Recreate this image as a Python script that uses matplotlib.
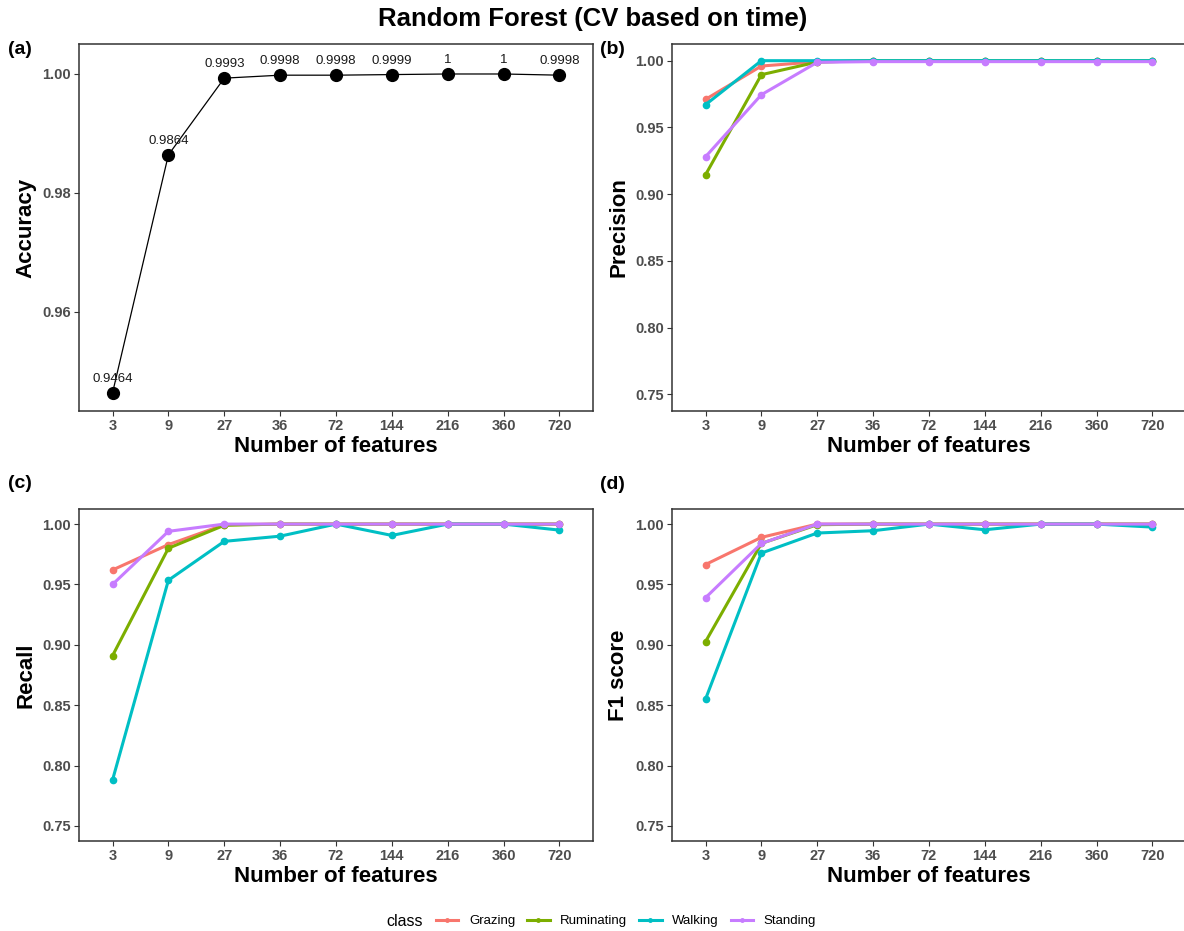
import matplotlib
matplotlib.use("Agg")
import matplotlib.pyplot as plt
from matplotlib.lines import Line2D

plt.rcParams["font.family"] = ["Liberation Sans", "DejaVu Sans"]

# Data
features = ["3", "9", "27", "36", "72", "144", "216", "360", "720"]
classes = ["Grazing", "Ruminating", "Walking", "Standing"]
colors = ["#F8766D", "#7CAE00", "#00BFC4", "#C77CFF"]

accuracy = [0.9464, 0.9864, 0.9993, 0.9998, 0.9998, 0.9999, 1.0, 1.0, 0.9998]
accuracy_labels = ["0.9464", "0.9864", "0.9993", "0.9998", "0.9998", "0.9999", "1", "1", "0.9998"]

precision_grazing = [0.971, 0.996, 0.9992, 0.9997, 0.9997, 0.9997, 0.9997, 0.9997, 0.9997]
precision_ruminating = [0.9145, 0.9895, 0.999, 1.0, 1.0, 1.0, 1.0, 1.0, 1.0]
precision_walking = [0.967, 1.0, 1.0, 1.0, 1.0, 1.0, 1.0, 1.0, 1.0]
precision_standing = [0.928, 0.9745, 0.9988, 0.9993, 0.9993, 0.9993, 0.9993, 0.9993, 0.9993]

recall_grazing = [0.962, 0.983, 0.9995, 1.0, 1.0, 1.0, 1.0, 1.0, 1.0]
recall_ruminating = [0.891, 0.980, 0.999, 1.0, 1.0, 1.0, 1.0, 1.0, 1.0]
recall_walking = [0.788, 0.9535, 0.9857, 0.990, 1.0, 0.9906, 1.0, 1.0, 0.995]
recall_standing = [0.950, 0.994, 1.0, 1.0, 1.0, 1.0, 1.0, 1.0, 1.0]

f1_grazing = [0.9665, 0.989, 1.0, 1.0, 1.0, 1.0, 1.0, 1.0, 1.0]
f1_ruminating = [0.9026, 0.984, 0.9995, 1.0, 1.0, 1.0, 1.0, 1.0, 1.0]
f1_walking = [0.855, 0.976, 0.9926, 0.9945, 1.0, 0.9953, 1.0, 1.0, 0.9975]
f1_standing = [0.939, 0.984, 1.0, 1.0, 1.0, 1.0, 1.0, 1.0, 1.0]

W, H = 1184, 931
TICK_GREY = "#4D4D4D"
FRAME = "#333333"


def px_axes(fig, left, top, right, bottom):
    """Add axes given pixel edges (origin top-left)."""
    return fig.add_axes([left / W, 1 - bottom / H, (right - left) / W, (bottom - top) / H])


def style_axes(ax, ylabel):
    ax.set_xlim(-0.6, len(features) - 0.4)
    ax.set_xticks(range(len(features)))
    ax.set_xticklabels(features)
    for s in ax.spines.values():
        s.set_color(FRAME)
        s.set_linewidth(1.1)
    ax.tick_params(axis="both", colors=FRAME, length=3.5, width=0.8, pad=2.5,
                   labelsize=10.5, labelcolor=TICK_GREY)
    for lbl in ax.get_xticklabels() + ax.get_yticklabels():
        lbl.set_fontweight("bold")
    ax.set_xlabel("Number of features", fontsize=16, fontweight="bold", labelpad=2)
    ax.set_ylabel(ylabel, fontsize=16, fontweight="bold", labelpad=4)


def class_panel(ax, series, ylabel):
    x = range(len(features))
    for vals, col in zip(series, colors):
        ax.plot(x, vals, color=col, lw=2.2, marker="o", ms=4.5, solid_capstyle="butt")
    ax.set_ylim(0.7375, 1.0125)
    ax.set_yticks([0.75, 0.80, 0.85, 0.90, 0.95, 1.00])
    ax.set_yticklabels(["%.2f" % v for v in [0.75, 0.80, 0.85, 0.90, 0.95, 1.00]])
    style_axes(ax, ylabel)


fig = plt.figure(figsize=(W / 100, H / 100), dpi=100)

# (a) accuracy
ax_a = px_axes(fig, 79, 44, 593, 411)
ax_a.plot(range(len(features)), accuracy, color="black", lw=0.9, marker="o", ms=8.5)
for i, (v, t) in enumerate(zip(accuracy, accuracy_labels)):
    ax_a.annotate(t, (i, v), xytext=(0, 10), textcoords="offset points",
                  ha="center", va="center", fontsize=9.5, color="#1a1a1a")
ax_a.set_ylim(0.94336, 1.00504)
ax_a.set_yticks([0.96, 0.98, 1.00])
ax_a.set_yticklabels(["0.96", "0.98", "1.00"])
style_axes(ax_a, "Accuracy")

# (b) precision
ax_b = px_axes(fig, 672, 44, 1186, 411)
class_panel(ax_b, [precision_grazing, precision_ruminating, precision_walking, precision_standing], "Precision")

# (c) recall
ax_c = px_axes(fig, 79, 509, 593, 841)
class_panel(ax_c, [recall_grazing, recall_ruminating, recall_walking, recall_standing], "Recall")

# (d) F1 score
ax_d = px_axes(fig, 672, 509, 1186, 841)
class_panel(ax_d, [f1_grazing, f1_ruminating, f1_walking, f1_standing], "F1 score")

# title and panel tags
fig.text(593 / W, 1 - 19 / H, "Random Forest (CV based on time)", ha="center", va="center",
         fontsize=18.5, fontweight="bold")
for tag, (xp, yp) in zip(["(a)", "(b)", "(c)", "(d)"],
                         [(8, 50), (600, 50), (8, 483), (600, 485)]):
    fig.text(xp / W, 1 - yp / H, tag, ha="left", va="center", fontsize=14, fontweight="bold")

# legend along the bottom
handles = [Line2D([], [], color=c, lw=2.2, marker="o", ms=2.5) for c in colors]
fig.text(386 / W, 1 - 921 / H, "class", ha="left", va="center", fontsize=11.5)
fig.legend(handles, classes, loc="center left", bbox_to_anchor=(436 / W, 1 - 921 / H),
           ncol=4, frameon=False, fontsize=9.5, handlelength=1.7, handletextpad=0.8,
           columnspacing=0.9, borderaxespad=0, borderpad=0)

fig.savefig("out.png", dpi=100)
